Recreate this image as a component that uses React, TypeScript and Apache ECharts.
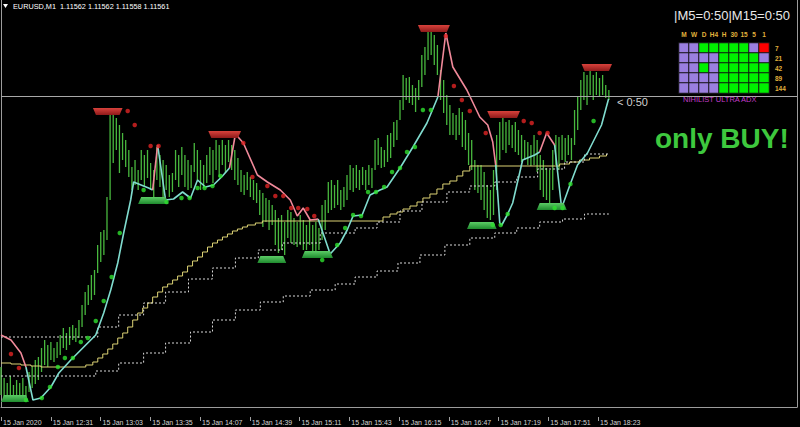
import React, { useEffect, useRef } from 'react';
import * as echarts from 'echarts';

// Prices are stored in points (1e-5) above BASE; time is in minutes from 11:59.
const BASE = 1.11;
const BAR_MINUTES = 2;

const symbolName = 'EURUSD,M1';
const lastBar = ['1.11562', '1.11562', '1.11558', '1.11561'];
const timerText = '|M5=0:50|M15=0:50';
const countdownText = '< 0:50';
const signalText = 'only BUY!';
const panelName = 'NIHILIST ULTRA ADX';

const timeLabels = [
  '15 Jan 2020', '15 Jan 12:31', '15 Jan 13:03', '15 Jan 13:35', '15 Jan 14:07',
  '15 Jan 14:39', '15 Jan 15:11', '15 Jan 15:43', '15 Jan 16:15', '15 Jan 16:47',
  '15 Jan 17:19', '15 Jan 17:51', '15 Jan 18:23', '', '', '', '',
];

const barHigh = [
  290, 279, 274, 281, 272, 277, 274, 279, 271, 285,
  291, 297, 300, 309, 317, 312, 315, 309, 315, 322,
  329, 324, 330, 332, 329, 337, 352, 365, 372, 382,
  387, 412, 425, 427, 460, 544, 542, 539, 532, 524,
  517, 507, 490, 497, 487, 507, 502, 507, 494, 487,
  510, 502, 497, 492, 482, 484, 507, 502, 510, 502,
  497, 492, 514, 507, 497, 492, 502, 510, 507, 517,
  512, 517, 512, 517, 512, 507, 499, 487, 482, 485,
  480, 477, 474, 467, 464, 459, 457, 452, 447, 439,
  442, 435, 447, 445, 439, 435, 442, 437, 432, 437,
  432, 435, 429, 452, 457, 475, 477, 472, 477, 467,
  470, 482, 492, 489, 492, 487, 490, 487, 492, 489,
  517, 519, 510, 507, 522, 524, 535, 537, 557, 582,
  579, 580, 572, 569, 577, 602, 610, 625, 627, 622,
  612, 587, 577, 562, 552, 544, 542, 549, 545, 537,
  524, 517, 497, 492, 492, 485, 472, 467, 487, 522,
  535, 539, 535, 537, 532, 535, 527, 522, 517, 515,
  512, 522, 517, 502, 497, 489, 487, 507, 522, 520,
  522, 519, 522, 519, 547, 560, 577, 585, 582, 587,
  582, 585, 579, 582, 572, 567,
];
const barLow = [
  262, 260, 261, 262, 260, 261, 260, 262, 257, 265,
  269, 273, 277, 285, 292, 290, 297, 295, 299, 302,
  309, 307, 312, 317, 315, 319, 330, 342, 352, 357,
  362, 384, 395, 402, 417, 457, 494, 507, 484, 497,
  490, 480, 467, 472, 467, 477, 470, 479, 467, 460,
  477, 470, 460, 467, 460, 465, 477, 470, 482, 470,
  467, 469, 485, 477, 467, 469, 474, 482, 474, 487,
  480, 492, 484, 495, 487, 477, 472, 465, 462, 467,
  460, 457, 454, 442, 430, 435, 427, 432, 412, 404,
  407, 402, 419, 414, 412, 410, 412, 407, 407, 412,
  405, 404, 407, 417, 427, 444, 447, 449, 452, 447,
  450, 457, 467, 465, 469, 467, 472, 467, 472, 469,
  487, 492, 489, 490, 495, 499, 510, 517, 537, 547,
  557, 554, 552, 545, 557, 570, 582, 597, 602, 592,
  582, 557, 544, 532, 522, 522, 517, 522, 510, 507,
  492, 487, 467, 464, 457, 447, 439, 437, 442, 467,
  497, 507, 504, 512, 509, 505, 502, 495, 497, 492,
  491, 492, 485, 467, 460, 457, 454, 467, 492, 487,
  497, 495, 502, 497, 512, 527, 547, 557, 552, 562,
  557, 562, 560, 562, 559, 557,
];

// trend line: rising (cyan) and falling (pink) legs, [minute, points]
const trendUp = [
  [[16, 290], [20.5, 257], [25.6, 259], [32, 270], [37.1, 284], [44.8, 297], [53.1, 310], [60.8, 322], [65.9, 344], [70.4, 367], [74.9, 394], [78.7, 424], [83.2, 457], [85.1, 475], [94.7, 469], [97.3, 467]],
  [[100.5, 512], [105.6, 457], [110.7, 458], [116.5, 465], [121.6, 459], [126.1, 477], [131.2, 470], [136.3, 472], [142.1, 481], [146.6, 489]],
  [[203.5, 438], [211.2, 403], [217.6, 414], [222.1, 427], [225.9, 441], [231.7, 442], [236.8, 462], [243.2, 467], [247.7, 470], [256, 489], [264.3, 510], [273.3, 534], [280.3, 560]],
  [[317.4, 492], [320, 434], [321.3, 432], [325.1, 443], [328.3, 454], [334.7, 497], [342.4, 502], [345.6, 505]],
  [[355.2, 512], [359.7, 449], [364.8, 471], [369.9, 492], [376.3, 504], [385.3, 532], [389.8, 558]],
];
const trendDown = [
  [[0, 322], [6.4, 317], [12.8, 304], [16, 290]],
  [[97.3, 467], [100.5, 512]],
  [[146.6, 489], [150.4, 523], [155.5, 514], [164.5, 482], [170.9, 475], [179.2, 467], [185.6, 457], [190.1, 441], [193.9, 449], [198.4, 437], [203.5, 438]],
  [[280.3, 560], [285.4, 624], [289.9, 590], [298.9, 567], [307.2, 540], [312.3, 532], [315.5, 515], [317.4, 492]],
  [[345.6, 505], [350.1, 524], [355.2, 512]],
];

const supportDots = [
  [16, 257], [26.2, 259], [31.4, 270], [36.5, 290], [41, 299], [46.1, 299], [51.2, 315], [55.7, 319], [60.8, 336], [65.9, 356],
  [71, 380], [76.2, 424], [91.5, 467], [106.2, 455], [115.8, 459], [121, 459], [126.1, 469], [130.6, 469], [135.7, 471], [140.8, 481],
  [206.1, 397], [215.7, 412], [220.8, 429], [225.9, 442], [231, 441], [235.5, 465], [240.6, 465], [245.8, 470], [250.9, 485], [256, 489],
  [260.5, 505], [265.6, 510], [270.7, 547], [275.8, 547], [315.5, 432], [320.6, 432], [325.1, 443], [355.2, 449], [360.3, 449], [365.4, 473],
  [380.2, 536],
];
const resistanceDots = [
  [6.4, 303], [11.5, 289], [81.3, 546], [85.8, 532], [96, 511], [101.1, 511], [155.5, 514], [161.3, 480], [170.9, 471], [176, 461],
  [181.1, 461], [186.2, 449], [190.7, 449], [196.5, 448], [201, 441], [285.4, 621], [290.6, 571], [295.7, 557], [300.8, 546], [311, 524],
  [335.4, 536], [340.5, 534], [345.6, 524], [350.7, 524],
];

// [start minute, end minute, level]
const sellZones = [[59, 78, 549], [133, 154, 526], [267.5, 288, 632], [312, 333, 546], [372.5, 392, 593]];
const buyZones = [[0, 18, 255], [88, 107.5, 453], [164.5, 183, 394], [193, 213, 399], [299, 318, 428], [343.7, 363, 447]];

const trailLevel = [
  [0, 294], [6.4, 293], [12.8, 292], [19.2, 291], [25.6, 290], [54.4, 292], [58.9, 295], [62.1, 299], [65.3, 303], [68.5, 308],
  [71.7, 313], [74.9, 319], [78.1, 324], [81.3, 330], [84.5, 337], [87.7, 344], [90.9, 349], [94.1, 354], [97.3, 360], [100.5, 365],
  [103.7, 370], [106.9, 373], [110.1, 377], [113.3, 381], [116.5, 385], [119.7, 391], [122.9, 396], [126.1, 400], [129.3, 405], [132.5, 410],
  [135.7, 414], [138.9, 417], [142.1, 420], [145.3, 423], [148.5, 426], [151.7, 428], [154.9, 430], [158.1, 432], [163.2, 434], [167.7, 436],
  [245.1, 440], [249.6, 443], [254.1, 445], [257.9, 448], [262.4, 451], [266.9, 455], [270.7, 459], [275.2, 463], [279.7, 468], [283.5, 473],
  [288, 476], [292.5, 481], [296.3, 486], [300.8, 491], [358.4, 493], [364.8, 495], [371.2, 497], [377.6, 499], [384, 501], [388.5, 503],
];
const upperBand = [
  [0, 320], [62.1, 330], [75.5, 342], [91.5, 354], [105.6, 365], [120.3, 378], [135.7, 389], [150.4, 399], [165.1, 407], [180.5, 414],
  [204.8, 424], [227.2, 429], [241.3, 435], [256, 446], [270.1, 455], [286.1, 465], [300.8, 471], [316.8, 475], [330.9, 480], [344.3, 488],
  [361.6, 495], [374.4, 503], [390, 503],
];
const lowerBand = [
  [0, 281], [60.8, 286], [75.5, 294], [91.5, 304], [105.6, 314], [121.6, 325], [135.7, 337], [150.4, 347], [166.4, 355], [181.1, 361],
  [198.4, 367], [214.4, 373], [227.2, 380], [241.3, 386], [254.7, 394], [268.8, 402], [284.8, 412], [300.8, 419], [316.8, 424], [330.9, 429],
  [345.6, 435], [360.3, 438], [374.4, 443], [390, 443],
];

const adxCols = ['M', 'W', 'D', 'H4', 'H', '30', '15', '5', '1'];
const adxRows = ['7', '21', '42', '89', '144'];
const adxStates = [
  [0, 0, 1, 1, 1, 1, 1, 0, 2],
  [0, 0, 0, 0, 1, 1, 1, 1, 0],
  [0, 0, 1, 0, 1, 1, 1, 1, 1],
  [0, 0, 0, 0, 1, 1, 1, 1, 1],
  [0, 0, 0, 0, 1, 1, 1, 1, 1],
];

const CYAN = '#80dccf';
const PINK = '#f0899a';
const BAR_GREEN = '#48b83e';
const GOLD = '#e0b23c';
const FONT = '"Liberation Sans", Arial, sans-serif';

function buildOption() {
  const lastClose = Math.round((parseFloat(lastBar[3]) - BASE) * 1e5);
  const barData = barHigh.map((h, k) => [k * BAR_MINUTES, h, barLow[k]]);
  const heatData: number[][] = [];
  adxStates.forEach((row, r) => row.forEach((s, c) => heatData.push([c, r, s])));

  const zoneSeries = (data: number[][], sell: boolean) => ({
    type: 'custom',
    xAxisIndex: 0,
    yAxisIndex: 0,
    silent: true,
    z: 6,
    data,
    renderItem: (_p: any, api: any) => {
      const a = api.coord([api.value(0), api.value(2)]);
      const b = api.coord([api.value(1), api.value(2)]);
      const h = 7;
      const inset = 3;
      const pts = sell
        ? [[a[0], a[1]], [b[0], a[1]], [b[0] - inset, a[1] + h], [a[0] + inset, a[1] + h]]
        : [[a[0] + inset, a[1] - h], [b[0] - inset, a[1] - h], [b[0], a[1]], [a[0], a[1]]];
      return {
        type: 'polygon',
        shape: { points: pts },
        style: {
          fill: new echarts.graphic.LinearGradient(0, 0, 0, 1, sell
            ? [{ offset: 0, color: '#d8423c' }, { offset: 1, color: '#8e1a1a' }]
            : [{ offset: 0, color: '#5ccc66' }, { offset: 1, color: '#1f8a2e' }]),
        },
      };
    },
  });

  const series: any[] = [
    {
      type: 'heatmap',
      xAxisIndex: 2,
      yAxisIndex: 2,
      data: heatData,
      silent: true,
      itemStyle: { borderColor: '#151515', borderWidth: 1 },
      emphasis: { disabled: true },
    },
    {
      type: 'custom',
      name: 'bars',
      xAxisIndex: 0,
      yAxisIndex: 0,
      silent: true,
      z: 1,
      data: barData,
      renderItem: (_p: any, api: any) => {
        const p1 = api.coord([api.value(0), api.value(1)]);
        const p2 = api.coord([api.value(0), api.value(2)]);
        return {
          type: 'line',
          shape: { x1: p1[0], y1: p1[1], x2: p2[0], y2: p2[1] },
          style: { stroke: BAR_GREEN, lineWidth: 1.3 },
        };
      },
    },
    {
      type: 'line', step: 'end', data: trailLevel, symbol: 'none', silent: true, z: 2,
      lineStyle: { color: '#dcd275', width: 1 },
    },
    {
      type: 'line', step: 'end', data: upperBand, symbol: 'none', silent: true, z: 2,
      lineStyle: { color: '#d8d8d8', width: 1, type: [2, 2] },
      markLine: {
        silent: true,
        symbol: 'none',
        label: { show: false },
        lineStyle: { color: '#a8a8a8', width: 1, type: 'solid' },
        data: [{ yAxis: lastClose }],
      },
    },
    {
      type: 'line', step: 'end', data: lowerBand, symbol: 'none', silent: true, z: 2,
      lineStyle: { color: '#d8d8d8', width: 1, type: [2, 2] },
    },
    ...trendUp.map((seg) => ({
      type: 'line', data: seg, symbol: 'none', silent: true, z: 4,
      lineStyle: { color: CYAN, width: 1.6 },
    })),
    ...trendDown.map((seg) => ({
      type: 'line', data: seg, symbol: 'none', silent: true, z: 4,
      lineStyle: { color: PINK, width: 1.6 },
    })),
    zoneSeries(sellZones, true),
    zoneSeries(buyZones, false),
    {
      type: 'scatter', data: supportDots, symbolSize: 4.5, silent: true, z: 7,
      itemStyle: { color: '#2ee02e' },
    },
    {
      type: 'scatter', data: resistanceDots, symbolSize: 4.5, silent: true, z: 7,
      itemStyle: { color: '#e02424' },
    },
  ];

  return {
    animation: false,
    backgroundColor: '#000000',
    grid: [
      { left: 0, right: 2, top: 0, bottom: 20 },
      { left: 679, top: 43, width: 90, height: 50 },
    ],
    xAxis: [
      {
        type: 'value', gridIndex: 0, min: 0, max: 510.72,
        axisLine: { show: true, lineStyle: { color: '#9c9c9c', width: 1 } },
        axisTick: { show: false }, axisLabel: { show: false }, splitLine: { show: false },
      },
      {
        type: 'category', gridIndex: 0, data: timeLabels, boundaryGap: false, position: 'bottom', offset: 10,
        axisLine: { show: false },
        axisTick: { show: true, length: 4, interval: (_i: number, v: string) => v !== '', lineStyle: { color: '#a0a0a0' } },
        axisLabel: { interval: 0, align: 'left', color: '#d4d4d4', fontSize: 7, fontFamily: FONT, margin: 2, padding: [0, 0, 0, 2] },
        splitLine: { show: false },
      },
      {
        type: 'category', gridIndex: 1, data: adxCols, position: 'top',
        axisLine: { show: false }, axisTick: { show: false }, splitLine: { show: false },
        axisLabel: { color: GOLD, fontSize: 6.5, fontWeight: 'bold', fontFamily: FONT, margin: 5, interval: 0 },
      },
    ],
    yAxis: [
      {
        type: 'value', gridIndex: 0, min: 250, max: 657, position: 'left',
        axisLine: { show: true, lineStyle: { color: '#9c9c9c' } },
        axisTick: { show: false }, axisLabel: { show: false }, splitLine: { show: false },
      },
      {
        type: 'value', gridIndex: 0, min: 250, max: 657, position: 'right',
        axisLine: { show: true, lineStyle: { color: '#9c9c9c' } },
        axisTick: { show: false }, axisLabel: { show: false }, splitLine: { show: false },
      },
      {
        type: 'category', gridIndex: 1, data: adxRows, inverse: true, position: 'right',
        axisLine: { show: false }, axisTick: { show: false }, splitLine: { show: false },
        axisLabel: { color: GOLD, fontSize: 6.5, fontWeight: 'bold', fontFamily: FONT, margin: 6, align: 'left' },
      },
    ],
    visualMap: {
      type: 'piecewise', show: false, seriesIndex: 0, dimension: 2,
      pieces: [
        { value: 0, color: '#9a7fe0' },
        { value: 1, color: '#00f000' },
        { value: 2, color: '#ff0000' },
      ],
    },
    series,
    graphic: [
      { type: 'polygon', shape: { points: [[3, 4], [8, 4], [5.5, 8]] }, style: { fill: '#ffffff' } },
      {
        type: 'text', x: 13, y: 6,
        style: { text: `${symbolName}  ${lastBar.join(' ')}`, fill: '#ffffff', fontSize: 7.3, fontFamily: FONT, verticalAlign: 'middle' },
      },
      {
        type: 'text', x: 790, y: 15,
        style: { text: timerText, fill: '#e8e8e8', fontSize: 13, fontFamily: FONT, align: 'right', verticalAlign: 'middle' },
      },
      {
        type: 'text', x: 683, y: 99.5,
        style: { text: panelName, fill: '#c23cc8', fontSize: 7.5, fontFamily: FONT, verticalAlign: 'middle' },
      },
      {
        type: 'text', x: 617, y: 101.5,
        style: { text: countdownText, fill: '#d0d0d0', fontSize: 11, fontFamily: FONT, verticalAlign: 'middle' },
      },
      {
        type: 'text', x: 655, y: 138,
        style: { text: signalText, fill: '#3ec83e', fontSize: 28, fontWeight: 'bold', fontFamily: FONT, verticalAlign: 'middle' },
      },
    ],
  };
}

export default function App() {
  const ref = useRef<HTMLDivElement>(null);
  useEffect(() => {
    if (!ref.current) return;
    const chart = echarts.init(ref.current, null, { renderer: 'svg' });
    chart.setOption(buildOption() as any);
    return () => chart.dispose();
  }, []);
  return (
    <div
      ref={ref}
      style={{ position: 'fixed', left: 0, top: 0, width: 800, height: 427, background: '#000' }}
    />
  );
}
